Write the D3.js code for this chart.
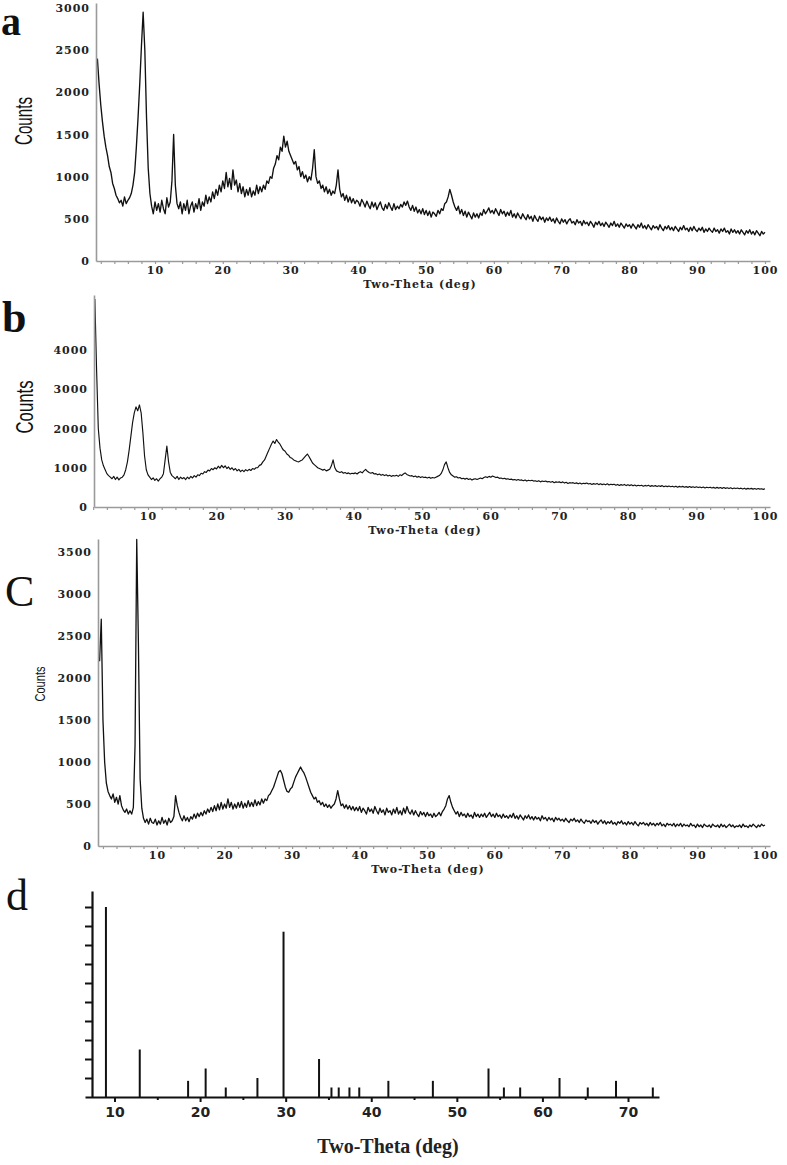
<!DOCTYPE html>
<html><head><meta charset="utf-8">
<script src="https://cdn.jsdelivr.net/npm/d3@7"></script>
<style>body{margin:0;background:#fff}</style>
</head><body>
<svg id="chart" width="787" height="1165"></svg>
<script>
// ---------- data (counts, 0.25 deg steps) ----------
const STEP = 0.25;          // deg between readings
const HIGH_START = 40;      // second array of each scan starts at 40 deg

const scanAStart = 1.5;
const scanALow = [
 2400,2100,1850,1650,1480,1350,1250,1120,
 1050,920,860,780,740,690,720,650,
 760,680,720,750,800,900,1050,1350,
 1700,2100,2550,2950,2500,1700,1100,800,
 650,560,700,600,680,580,720,620,
 560,750,640,700,950,1500,900,680,
 620,700,560,680,600,720,560,650,
 700,580,680,620,740,600,700,650,
 780,680,760,700,820,740,850,780,
 900,820,950,860,1050,880,980,850,
 1080,900,960,820,920,800,880,760,
 850,780,870,760,830,780,900,800,
 880,820,900,850,950,920,1000,980,
 1100,1150,1250,1200,1350,1300,1480,1350,
 1420,1300,1250,1200,1150,1180,1080,1120,
 1000,1060,980,1020,940,1000,960,1100,
 1320,1000,920,950,860,900,820,880,
 800,850,780,830,800,900,1080,850,
 760,800,720,780,700,760,690,740,
 680,720];
const scanAHigh = [
 700,650,730,690,640,710,660,620,
 700,640,690,610,660,700,630,600,
 670,620,690,640,600,680,610,650,
 620,670,640,700,660,710,640,600,
 660,590,640,570,610,560,620,550,
 600,540,590,520,580,560,530,600,
 560,620,600,680,700,760,850,780,
 700,640,600,650,560,610,540,590,
 520,580,540,500,570,520,560,510,
 570,540,610,560,590,630,570,600,
 560,620,580,540,610,560,590,530,
 580,540,600,520,560,510,570,530,
 500,560,520,490,550,500,530,470,
 540,500,470,530,490,520,460,510,
 480,520,470,500,450,510,470,440,
 500,460,490,440,480,500,450,470,
 430,490,450,470,420,480,440,460,
 420,470,440,400,460,430,470,420,
 450,410,460,430,400,450,420,470,
 410,440,400,450,420,390,440,410,
 430,390,440,410,380,430,400,450,
 390,420,380,430,400,370,420,390,
 410,370,430,390,360,410,380,420,
 370,400,360,410,380,350,400,370,
 420,370,390,350,400,360,410,370,
 350,390,360,400,340,380,350,390,
 360,340,390,350,370,330,380,350,
 390,340,360,320,380,340,370,330,
 360,320,370,340,310,360,330,370,
 320,350,310,360,330,300,350,320,
 340];

const scanBStart = 2.25;
const scanBLow = [
 5300,3500,2000,1500,1200,1050,950,850,
 800,760,720,780,700,760,690,740,
 760,820,950,1150,1450,1800,2150,2400,
 2550,2450,2600,2400,1900,1300,950,820,
 760,700,740,680,720,660,720,760,
 850,1200,1550,1150,880,800,760,720,
 780,700,760,720,750,700,760,720,
 780,740,800,760,820,800,860,840,
 900,880,940,920,980,950,1000,970,
 1040,990,1060,1000,1050,980,1020,960,
 1000,940,980,920,960,900,940,900,
 950,920,960,930,980,960,1000,1000,
 1060,1080,1150,1200,1300,1400,1500,1600,
 1680,1620,1720,1650,1600,1520,1450,1420,
 1350,1320,1260,1240,1200,1180,1160,1150,
 1180,1200,1250,1300,1350,1280,1200,1120,
 1080,1040,1000,980,960,940,960,920,
 940,960,1050,1200,1000,920,900,880,
 900,860,880,850,870,840,860];
const scanBHigh = [
 850,870,840,880,900,870,920,960,
 910,880,860,880,840,850,820,840,
 810,830,800,820,790,810,780,800,
 790,810,780,820,800,840,870,830,
 810,790,800,770,790,760,780,750,
 770,750,760,740,760,730,750,740,
 760,780,800,850,940,1080,1150,1000,
 880,820,790,760,770,740,750,720,
 730,710,730,700,720,690,710,720,
 700,720,740,720,750,770,750,780,
 760,790,770,750,760,730,740,720,
 730,710,720,700,710,690,700,680,
 700,680,690,670,690,660,680,670,
 680,660,670,650,670,640,660,650,
 660,640,650,630,650,620,640,630,
 640,620,640,610,630,600,620,610,
 620,600,615,590,610,585,605,595,
 610,585,600,575,595,580,600,570,
 590,570,585,565,590,560,580,570,
 580,555,575,550,570,555,575,545,
 570,545,565,540,560,535,555,540,
 555,530,550,535,555,525,545,530,
 545,520,540,525,545,515,535,520,
 535,515,530,510,530,505,525,510,
 525,505,520,500,520,500,515,495,
 515,495,510,490,510,485,505,490,
 505,485,500,480,500,480,495,475,
 495,475,490,470,490,465,485,470,
 485,465,480,460,480,455,475,460,
 475,455,470,450,470,455,465,450,
 465];

const scanCStart = 1.5;
const scanCLow = [
 2200,2700,1500,1000,750,650,600,560,
 620,520,580,500,600,480,430,400,
 440,380,420,380,460,1200,3650,2400,
 800,450,330,280,320,260,330,280,
 270,320,250,300,260,340,270,310,
 250,330,280,300,350,600,480,400,
 340,300,360,300,340,290,350,320,
 380,330,390,350,400,360,420,380,
 440,400,460,410,480,420,500,430,
 520,440,500,450,560,460,520,440,
 500,450,520,460,530,450,510,460,
 540,470,520,470,550,480,530,490,
 560,510,560,540,600,620,660,700,
 760,820,880,900,860,780,700,650,
 640,680,700,760,820,860,900,940,
 900,870,820,760,700,640,600,560,
 580,520,540,490,520,470,500,460,
 490,450,480,500,560,660,560,480,
 500,450,490,440,480,430,470,420,
 460,420];
const scanCHigh = [
 470,400,450,420,380,460,410,440,
 390,470,420,380,450,400,430,370,
 450,400,420,370,440,390,460,380,
 420,370,450,390,470,410,380,430,
 370,420,380,350,410,370,400,350,
 400,360,380,340,390,350,370,400,
 360,410,440,480,560,600,520,460,
 420,380,410,350,400,360,380,340,
 390,350,370,330,400,350,380,340,
 380,350,390,340,370,400,350,380,
 340,390,350,370,330,380,340,360,
 330,370,340,390,330,360,320,370,
 340,310,360,330,370,320,350,310,
 350,320,340,300,360,320,340,300,
 340,310,330,290,340,310,330,300,
 320,290,330,300,280,320,300,330,
 290,310,280,320,290,270,310,290,
 300,270,310,280,300,260,290,310,
 270,300,260,290,270,300,260,280,
 250,290,270,300,260,280,250,290,
 260,280,250,290,260,240,280,260,
 280,250,270,240,280,250,270,240,
 270,250,280,240,260,230,270,250,
 260,240,270,230,260,240,270,230,
 260,240,250,230,270,240,250,220,
 260,230,250,220,260,240,230,250,
 220,260,240,230,250,220,260,230,
 250,220,240,260,230,250,220,240,
 230,250,220,260,230,240,220,250,
 230,260,240,220,250,230,260,240,
 250];

const xTickLabels = [10,20,30,40,50,60,70,80,90,100];
const countTicksA = [0,500,1000,1500,2000,2500,3000];
const countTicksB = [0,1000,2000,3000,4000];
const countTicksC = [0,500,1000,1500,2000,2500,3000,3500];

const stickTheta  = [9.0,12.95,18.6,20.65,23.0,26.7,29.75,33.9,35.35,36.2,37.45,38.6,42.0,47.2,53.7,55.5,57.4,62.0,65.3,68.6,72.9];
const stickHeight = [10.0,2.5,0.85,1.5,0.5,1.0,8.7,2.0,0.5,0.5,0.5,0.5,0.85,0.85,1.5,0.5,0.5,1.0,0.5,0.85,0.5];
const stickTickLabels = [10,20,30,40,50,60,70];

// ---------- helpers ----------
function buildScan(start, low, high) {
  const pts = low.map((v, i) => [start + i * STEP, v]);
  high.forEach((v, i) => pts.push([HIGH_START + i * STEP, v]));
  return pts;
}

const svg = d3.select('#chart');
const SERIF_B = "'DejaVu Serif', serif";

function drawScan(o) {
  const g = svg.append('g');
  const x0s = d3.scaleLinear().domain([10, 100]).range([o.xTen, o.xHundred]);
  const x = d3.scaleLinear().domain([x0s.invert(o.left), x0s.invert(o.right)]).range([o.left, o.right]);
  const y0s = d3.scaleLinear().domain([0, o.refVal]).range([o.bottom, o.refPx]);
  const y = d3.scaleLinear().domain([0, y0s.invert(o.top)]).range([o.bottom, o.top]);

  const line = d3.line().x(d => x(d[0])).y(d => y(d[1]));
  g.append('path').datum(o.data).attr('d', line)
    .attr('fill', 'none').attr('stroke', '#111').attr('stroke-width', o.sw)
    .attr('stroke-linejoin', 'round');

  const minor = d3.range(2, 101, 2);
  const xa = g.append('g').attr('transform', `translate(0,${o.bottom})`)
    .call(d3.axisBottom(x).tickValues(minor).tickSizeInner(3).tickSizeOuter(0).tickPadding(2)
      .tickFormat(d => xTickLabels.includes(d) ? d : ''));
  const ya = g.append('g').attr('transform', `translate(${o.left},0)`)
    .call(d3.axisLeft(y).tickValues(o.yTicks).tickSizeInner(0).tickSizeOuter(0).tickPadding(6)
      .tickFormat(d3.format('d')));
  [xa, ya].forEach(a => {
    a.select('.domain').attr('stroke', '#9a9a9a').attr('stroke-width', 1.6);
    a.selectAll('.tick line').attr('stroke', '#9a9a9a').attr('stroke-width', 1.2);
    a.selectAll('text').attr('font-family', SERIF_B).attr('font-weight', 'bold')
      .attr('font-size', 11).attr('letter-spacing', 1).attr('fill', '#222');
  });

  g.append('text').text('Two-Theta (deg)')
    .attr('x', o.titleX).attr('y', o.titleY).attr('text-anchor', 'middle')
    .attr('font-family', SERIF_B).attr('font-weight', 'bold').attr('font-size', 11)
    .attr('letter-spacing', 1).attr('fill', '#222');

  g.append('text').text('Counts')
    .attr('transform', `translate(${o.countsX},${o.countsY}) rotate(-90)`)
    .attr('text-anchor', 'middle').attr('dominant-baseline', 'central')
    .attr('font-family', "'Liberation Sans Narrow','Liberation Sans',Arial,sans-serif")
    .attr('font-size', o.countsSize).attr('textLength', o.countsLen)
    .attr('lengthAdjust', 'spacingAndGlyphs').attr('fill', '#111');

  svg.append('text').text(o.letter).attr('x', o.lx).attr('y', o.ly)
    .attr('font-family', "'Liberation Serif', serif").attr('font-weight', o.lw)
    .attr('font-size', o.ls).attr('fill', '#111');
}

drawScan({letter:'a', lx:1, ly:35, ls:40, lw:'bold', sw:1.35,
  data: buildScan(scanAStart, scanALow, scanAHigh),
  left:96, right:770, xTen:155, xHundred:765,
  bottom:261, top:3, refVal:3000, refPx:8, yTicks:countTicksA,
  titleX:420, titleY:288, countsX:24, countsY:121, countsSize:23, countsLen:48});

drawScan({letter:'b', lx:2, ly:332, ls:44, lw:'bold', sw:1.15,
  data: buildScan(scanBStart, scanBLow, scanBHigh),
  left:94, right:770, xTen:148, xHundred:765,
  bottom:507, top:295, refVal:4000, refPx:350, yTicks:countTicksB,
  titleX:425, titleY:534, countsX:25, countsY:407, countsSize:23, countsLen:53});

drawScan({letter:'C', lx:5, ly:606, ls:44, lw:'normal', sw:1.3,
  data: buildScan(scanCStart, scanCLow, scanCHigh),
  left:98, right:770, xTen:157, xHundred:765,
  bottom:846, top:539, refVal:3000, refPx:594, yTicks:countTicksC,
  titleX:428, titleY:873, countsX:39, countsY:684, countsSize:15, countsLen:35});

// ---------- panel d: reference stick pattern ----------
(function () {
  const g = svg.append('g');
  const x0s = d3.scaleLinear().domain([10, 70]).range([114.5, 628]);
  const x = d3.scaleLinear().domain([x0s.invert(85), x0s.invert(659)]).range([85, 659]);
  const y0s = d3.scaleLinear().domain([0, 10]).range([1097, 907]);
  const y = d3.scaleLinear().domain([0, y0s.invert(891)]).range([1097, 891]);

  g.selectAll('line.stick').data(stickTheta).join('line').attr('class', 'stick')
    .attr('x1', d => x(d)).attr('x2', d => x(d))
    .attr('y1', y(0)).attr('y2', (d, i) => y(stickHeight[i]))
    .attr('stroke', '#111').attr('stroke-width', 2);

  const xa = g.append('g').attr('transform', 'translate(0,1097)')
    .call(d3.axisBottom(x).tickValues(d3.range(10, 71, 5)).tickSizeInner(5).tickSizeOuter(0)
      .tickPadding(5).tickFormat(d => stickTickLabels.includes(d) ? d : ''));
  xa.selectAll('.tick').filter(d => !stickTickLabels.includes(d)).select('line').attr('y2', 3);
  const ya = g.append('g').attr('transform', 'translate(92,0)')
    .call(d3.axisLeft(y).tickValues(d3.range(1, 11)).tickSizeInner(7).tickSizeOuter(0).tickFormat(''));
  [xa, ya].forEach(a => {
    a.select('.domain').attr('stroke', '#111').attr('stroke-width', 2.2);
    a.selectAll('.tick line').attr('stroke', '#111').attr('stroke-width', 2);
    a.selectAll('text').attr('font-family', "'DejaVu Sans', sans-serif").attr('font-weight', 'bold')
      .attr('font-size', 14).attr('fill', '#222');
  });

  g.append('text').text('Two-Theta (deg)').attr('x', 388).attr('y', 1153)
    .attr('text-anchor', 'middle').attr('font-family', "'Liberation Serif', serif")
    .attr('font-weight', 'bold').attr('font-size', 20).attr('fill', '#222');

  svg.append('text').text('d').attr('x', 6).attr('y', 910)
    .attr('font-family', "'Liberation Serif', serif").attr('font-size', 44).attr('fill', '#111');
})();
</script>
</body></html>
